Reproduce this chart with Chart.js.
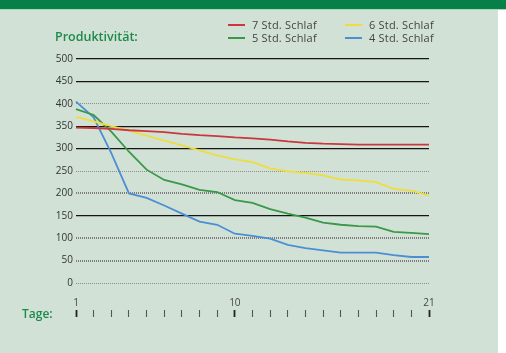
<!DOCTYPE html>
<html><head><meta charset="utf-8">
<script src="https://cdn.jsdelivr.net/npm/chart.js@4"></script>
<style>
html,body{margin:0;padding:0;}
body{width:506px;height:353px;background:#d2e1d5;position:relative;overflow:hidden;font-family:"Open Sans",sans-serif;}
#topbar{position:absolute;left:0;top:0;width:506px;height:9px;background:#067f48;}
#topline{position:absolute;left:0;top:9px;width:506px;height:1px;background:#a6d9b6;}
#strip{position:absolute;left:498px;top:10px;width:8px;height:343px;background:#fff;}
#wrap{position:absolute;left:0;top:0;width:506px;height:353px;}
.lbl{position:absolute;color:#1d8a4c;font-weight:600;white-space:nowrap;}
.leg{position:absolute;font-size:11px;color:#444;white-space:nowrap;line-height:13px;letter-spacing:0.2px;}
.leg span{display:inline-block;width:17px;height:2px;vertical-align:middle;margin-right:7px;position:relative;top:-1px;}
</style></head>
<body>
<div id="topbar"></div><div id="topline"></div><div id="strip"></div>
<div id="wrap"><canvas id="c" width="506" height="353"></canvas></div>
<div class="lbl" style="left:55px;top:28px;font-size:12.5px;">Produktivität:</div>
<div class="lbl" style="left:22px;top:305px;font-size:12px;">Tage:</div>
<div id="legend"></div>
<script>
const days = ['1','2','3','4','5','6','7','8','9','10','11','12','13','14','15','16','17','18','19','20','21'];
const shownDays = ['1','10','21'];
const seriesNames = ['7 Std. Schlaf','6 Std. Schlaf','5 Std. Schlaf','4 Std. Schlaf'];
const sleep7 = [347,346,344,341,339,337,333,330,328,325,323,320,316,313,311,310,309,309,309,309,309];
const sleep6 = [371,361,350,340,329,318,307,296,285,276,270,256,249,246,240,231,229,225,210,206,195];
const sleep5 = [388,375,338,293,253,230,220,208,203,185,179,165,155,146,135,130,127,126,114,112,109];
const sleep4 = [405,370,290,200,190,173,155,137,130,110,105,99,85,78,73,68,68,68,62,58,58];
const yTicks = [0,50,100,150,200,250,300,350,400,450,500];
const colors = ['#c8383c','#eedd3e','#3a9848','#4b8fd2'];
const seriesData = [sleep7, sleep6, sleep5, sleep4];

// legend (two columns, reading order row by row)
const legPos = [[228,18],[345,18],[228,31],[345,31]];
const legend = document.getElementById('legend');
seriesNames.forEach((n,i)=>{
  const d = document.createElement('div');
  d.className='leg';
  d.style.left = legPos[i][0]+'px';
  d.style.top = legPos[i][1]+'px';
  d.innerHTML = '<span style="background:'+colors[i]+'"></span>'+n;
  legend.appendChild(d);
});

const solid = {500:1,450:1,350:1,300:1,150:1};
const thick = {200:1,100:1,50:1};

new Chart(document.getElementById('c'), {
  type:'line',
  data:{
    labels: days,
    datasets: seriesNames.map((n,i)=>({
      label:n, data:seriesData[i], borderColor:colors[i], backgroundColor:colors[i],
      borderWidth:1.8, pointRadius:0, tension:0, fill:false
    }))
  },
  options:{
    responsive:false, animation:false,
    layout:{padding:{left:0,top:59,right:77,bottom:35}},
    plugins:{legend:{display:false},tooltip:{enabled:false}},
    scales:{
      x:{
        type:'category', offset:false, weight:0,
        grid:{display:false, drawTicks:false},
        border:{display:false},
        ticks:{autoSkip:false, maxRotation:0, padding:14, color:'#444',
          font:{family:'Open Sans', size:10},
          callback:function(v){const l=this.getLabelForValue(v);return shownDays.includes(l)?l:'';}},
        afterFit:s=>{s.height=27;}
      },
      x2:{
        type:'category', labels: days, position:'bottom', offset:false, weight:1,
        grid:{drawOnChartArea:false, drawTicks:true, tickLength:7,
          tickColor:ctx=>shownDays.includes(days[ctx.index])?'#222':'#555',
          tickWidth:ctx=>shownDays.includes(days[ctx.index])?1.8:1.1},
        border:{display:false},
        ticks:{display:false, autoSkip:false},
        afterFit:s=>{s.height=8;}
      },
      y:{
        min:0, max:500,
        afterBuildTicks:s=>{s.ticks = yTicks.map(v=>({value:v}));},
        grid:{drawTicks:false,
          color:ctx=>{const v=ctx.tick&&ctx.tick.value; return solid[v]?'#151515':(thick[v]?'#7c7c7c':'#8e8e8e');},
          lineWidth:ctx=>{const v=ctx.tick&&ctx.tick.value; return solid[v]?1.2:(thick[v]?2:1);}
        },
        border:{display:false,
          dash:ctx=>{const v=ctx.tick&&ctx.tick.value; return solid[v]?[]:[1,1];}},
        ticks:{padding:3, color:'#333', font:{family:'Open Sans', size:10}},
        afterFit:s=>{s.width=76;}
      }
    }
  }
});
</script>
</body></html>
